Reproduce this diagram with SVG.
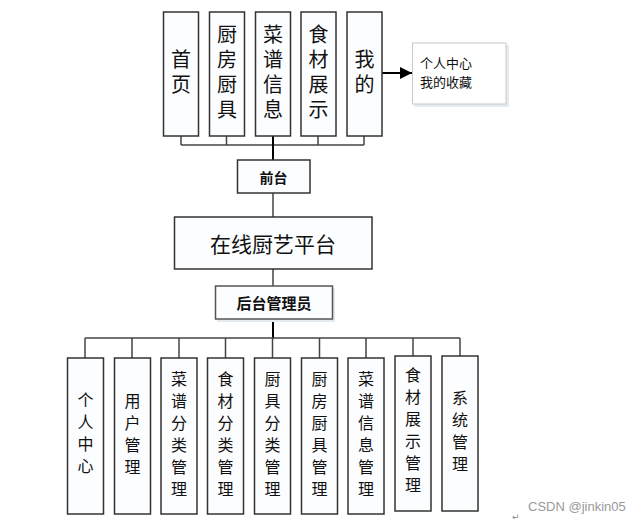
<svg xmlns="http://www.w3.org/2000/svg" width="641" height="524" viewBox="0 0 641 524">
<style>
.box{fill:#fcfdff;stroke:#333;stroke-width:1.5}
.gbox{fill:#fcfdff;stroke:#555;stroke-width:1.5}
.sh{fill:#e6ebf2}
.t{font-family:"Noto Sans CJK SC","Liberation Sans",sans-serif;fill:#111;text-anchor:middle;dominant-baseline:central}
.v{font-family:"Noto Sans CJK SC","Liberation Sans",sans-serif;fill:#111;text-anchor:middle;writing-mode:vertical-rl}
.top{font-size:20px;letter-spacing:5px}
.bot{font-size:16px;letter-spacing:6px}
.bus{stroke:#444;stroke-width:1.5;fill:none}
.main{stroke:#000;stroke-width:2;fill:none}
</style>
<defs>
<marker id="arr" markerWidth="12" markerHeight="12" refX="12" refY="6" orient="auto" markerUnits="userSpaceOnUse">
<path d="M0,0 L12,6 L0,12 Z" fill="#000"/>
</marker>
</defs>
<rect width="641" height="524" fill="#fff"/>

<g id="connectors">
<path class="bus" d="M181,136 V145 M226.5,136 V145 M318,136 V145 M364,136 V145 M181,145 H364"/>
<path class="main" d="M273,136 V160"/>
<path class="main" d="M382,73 H412" marker-end="url(#arr)"/>
<path class="bus" d="M273,193 V217 M273,269 V286"/>
<path class="main" d="M273,319 V339"/>
<path class="bus" d="M85,338 H460 M85,338 V358 M132,338 V358 M179,338 V358 M225.5,338 V358 M272.5,338 V358 M319.5,338 V358 M366,338 V358 M413,338 V356 M460,338 V356"/>
</g>

<g id="n-shouye"><rect class="box" x="163.5" y="12" width="35" height="124"/>
<text class="v top" x="181" y="74">首页</text></g>
<g id="n-chufang"><rect class="box" x="209.5" y="12" width="35" height="124"/>
<text class="v top" x="227" y="74">厨房厨具</text></g>
<g id="n-caipu"><rect class="box" x="255.5" y="12" width="35" height="124"/>
<text class="v top" x="273" y="74">菜谱信息</text></g>
<g id="n-shicai"><rect class="box" x="301" y="12" width="35" height="124"/>
<text class="v top" x="318.5" y="74">食材展示</text></g>
<g id="n-wode"><rect class="box" x="347" y="12" width="35" height="124"/>
<text class="v top" x="364.5" y="74">我的</text></g>

<g id="n-geren"><rect class="sh" x="414" y="45" width="95" height="62"/><rect x="412.5" y="43" width="93.5" height="61" fill="#fff" stroke="#c8c8c8" stroke-width="1"/>
<text class="t" x="420" y="62" style="font-size:13px;text-anchor:start">个人中心</text>
<text class="t" x="420" y="81" style="font-size:13px;text-anchor:start">我的收藏</text></g>

<g id="n-qiantai"><rect class="box" x="237.5" y="160" width="72.5" height="33"/>
<text class="t" x="273.5" y="176.5" style="font-size:14px;font-weight:bold">前台</text></g>

<g id="n-platform"><rect class="box" x="174.5" y="217" width="197.5" height="52"/>
<text class="t" x="273" y="243" style="font-size:21px">在线厨艺平台</text></g>

<g id="n-houtai"><rect class="sh" x="217" y="288" width="118" height="34"/><rect class="gbox" x="215.5" y="286" width="117" height="33"/>
<text class="t" x="274" y="302.5" style="font-size:15px;font-weight:bold">后台管理员</text></g>

<g id="n-b1"><rect class="box" x="67.5" y="358" width="36" height="156"/>
<text class="v bot" x="85.5" y="436">个人中心</text></g>
<g id="n-b2"><rect class="box" x="114.5" y="358" width="36" height="156"/>
<text class="v bot" x="132.5" y="437">用户管理</text></g>
<g id="n-b3"><rect class="box" x="161" y="358" width="36" height="156"/>
<text class="v bot" x="179" y="437">菜谱分类管理</text></g>
<g id="n-b4"><rect class="box" x="207.5" y="358" width="36" height="156"/>
<text class="v bot" x="225.5" y="437">食材分类管理</text></g>
<g id="n-b5"><rect class="box" x="254.5" y="358" width="36" height="156"/>
<text class="v bot" x="272.5" y="437">厨具分类管理</text></g>
<g id="n-b6"><rect class="box" x="301.5" y="358" width="36" height="156"/>
<text class="v bot" x="319.5" y="437">厨房厨具管理</text></g>
<g id="n-b7"><rect class="box" x="348" y="358" width="36" height="156"/>
<text class="v bot" x="366" y="437">菜谱信息管理</text></g>
<g id="n-b8"><rect class="box" x="395" y="356" width="36" height="155"/>
<text class="v bot" x="413" y="433">食材展示管理</text></g>
<g id="n-b9"><rect class="box" x="442" y="356" width="36" height="155"/>
<text class="v bot" x="460" y="434">系统管理</text></g>

<text x="528" y="511" style="font-family:'Liberation Sans',sans-serif;font-size:13px;fill:#999">CSDN @jinkin05</text>
<text x="512" y="520" style="font-family:'DejaVu Sans',sans-serif;font-size:9px;fill:#888">↵</text>
</svg>
